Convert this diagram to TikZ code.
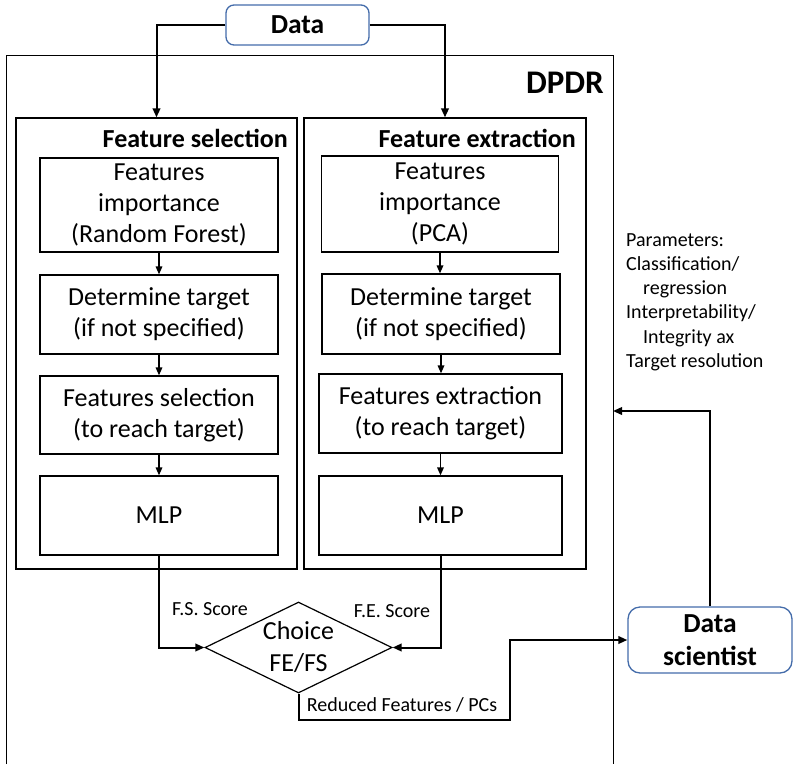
\documentclass[tikz,border=0pt]{standalone}
\usepackage{fontspec}
\setmainfont{Carlito}
\usetikzlibrary{arrows.meta,shapes.geometric}
\definecolor{boxblue}{RGB}{68,108,170}
\tikzset{
  stepbox/.style={draw, line width=1.2pt, align=center, inner sep=0pt,
    font=\fontsize{26}{31}\selectfont},
  colbox/.style={draw, line width=1.2pt, inner sep=0pt},
  roundbox/.style={draw=boxblue, line width=1.3pt, align=center, inner sep=0pt,
    font=\bfseries\fontsize{27.5}{33}\selectfont},
  conn/.style={line width=2pt, -{Triangle[length=9pt,width=7.5pt]}},
  arr/.style={line width=1.6pt, -{Triangle[length=8pt,width=6.5pt]}},
  lab/.style={font=\fontsize{20}{24.3}\selectfont, inner sep=0pt},
  title/.style={font=\bfseries\fontsize{26}{30}\selectfont, inner sep=0pt, anchor=base east}
}
\begin{document}
\begin{tikzpicture}[x=1pt,y=-1pt]
\useasboundingbox (0,0) rectangle (793,764);
% DPDR frame (continues below the picture)
\draw[line width=1pt] (6,764) -- (6,55) -- (613,55) -- (613,764);
\coordinate (dpdrR) at (613,411);
\node[font=\bfseries\fontsize{33}{38}\selectfont, inner sep=0pt, anchor=base east] (dpdr) at (604,93) {DPDR};

% top data box
\node[roundbox, rounded corners=8pt, minimum width=143, minimum height=40] (data) at (297.5,25) {Data};

% columns
\node[colbox, minimum width=281, minimum height=451] (fs) at (156.5,343.5) {};
\node[colbox, minimum width=282, minimum height=451] (fe) at (445,343.5) {};
\node[title] (fst) at (288,147) {Feature selection};
\node[title] (fet) at (576,147) {Feature extraction};

% left column steps
\node[stepbox, minimum width=238, minimum height=94] (l1) at (159,205) {Features\\importance\\(Random Forest)};
\node[stepbox, minimum width=238, minimum height=79] (l2) at (159,314.5) {Determine target\\(if not specified)};
\node[stepbox, minimum width=238, minimum height=78] (l3) at (159,415) {Features selection\\(to reach target)};
\node[stepbox, minimum width=238, minimum height=79] (l4) at (159,515.5) {MLP};

% right column steps
\node[stepbox, minimum width=237, minimum height=96] (r1) at (440,204) {Features\\importance\\(PCA)};
\node[stepbox, minimum width=238, minimum height=80] (r2) at (441,314) {Determine target\\(if not specified)};
\node[stepbox, minimum width=243, minimum height=79] (r3) at (440.5,413.5) {Features extraction\\(to reach target)};
\node[stepbox, minimum width=243, minimum height=79] (r4) at (440.5,515.5) {MLP};

% choice diamond
\node[diamond, draw, line width=1.2pt, minimum width=187, minimum height=91, inner sep=0pt,
  label={[font=\fontsize{26}{32}\selectfont, align=center, inner sep=0pt]center:Choice\\FE/FS}] (choice) at (298.5,647.5) {};

% data scientist
\node[roundbox, rounded corners=12pt, minimum width=164, minimum height=66] (ds) at (710,640) {Data\\scientist};

% parameters text
\node[lab, align=left, anchor=north west] (params) at (626,233) {Parameters:\\Classification/\\\hspace*{17pt}regression\\Interpretability/\\\hspace*{17pt}Integrity ax\\Target resolution};

% labels
\node[lab] (fsl) at (210,609) {F.S. Score};
\node[lab] (fel) at (392,611) {F.E. Score};
\node[lab] (redl) at (402,705) {Reduced Features / PCs};

% connectors
\draw[conn] (data.west) -| (fs.north);
\draw[conn] (data.east) -| (fe.north);
\draw[arr] (l1.south) -- (l2.north);
\draw[arr] (l2.south) -- (l3.north);
\draw[arr] (l3.south) -- (l4.north);
\draw[arr] (r1.south) -- (r1.south |- r2.north);
\draw[arr] (r2.south) -- (r2.south |- r3.north);
\draw[arr] (r3.south) -- (r3.south |- r4.north);
\draw[conn] (l4.south) |- (choice.west);
\draw[conn] (r4.south) |- (choice.east);
\coordinate (rr) at (510,720);
\draw[conn] (choice.south) |- (rr) |- (ds.west);
\draw[conn] (ds.north) |- (dpdrR);
\end{tikzpicture}
\end{document}
